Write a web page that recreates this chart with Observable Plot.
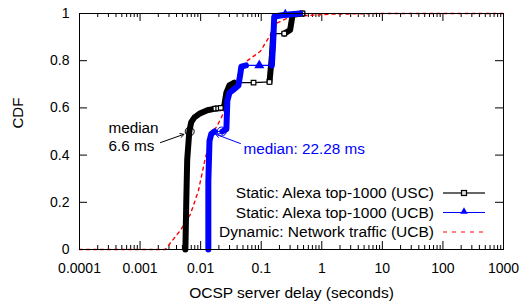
<!DOCTYPE html>
<html><head><meta charset="utf-8">
<script src="https://cdn.jsdelivr.net/npm/d3@7"></script>
<script src="https://cdn.jsdelivr.net/npm/@observablehq/plot@0.6"></script>
<style>body{margin:0;background:#fff}</style>
</head><body><div id="chart"></div>
<script>
// ---- data ----
const xTicks = [1e-4, 1e-3, 1e-2, 1e-1, 1, 10, 100, 1000];
const yTicks = [0, 0.2, 0.4, 0.6, 0.8, 1];
const seriesNames = ["Static: Alexa top-1000 (USC)", "Static: Alexa top-1000 (UCB)", "Dynamic: Network traffic (UCB)"];

const uscX = [0.0056, 0.0058, 0.0060, 0.0065, 0.0070, 0.0079, 0.0095, 0.0129, 0.0175, 0.0228, 0.0246, 0.0266, 0.0298, 0.036, 0.0747, 0.137, 0.150, 0.158, 0.24, 0.30, 0.33, 0.48];
const uscY = [0, 0.21, 0.38, 0.50, 0.54, 0.56, 0.575, 0.59, 0.597, 0.600, 0.61, 0.665, 0.695, 0.707, 0.707, 0.71, 0.82, 0.915, 0.915, 0.93, 0.995, 1.0];
const uscMarkX = [0.0175, 0.0195, 0.0215, 0.0747, 0.137, 0.24, 0.48];
const uscMarkY = [0.597, 0.598, 0.600, 0.707, 0.71, 0.915, 1.0];

const ucbX = [0.0134, 0.0134, 0.0140, 0.0150, 0.0169, 0.0228, 0.0266, 0.0276, 0.030, 0.036, 0.042, 0.045, 0.047, 0.056, 0.093, 0.150, 0.158, 0.164, 0.25, 0.44];
const ucbY = [0, 0.29, 0.46, 0.49, 0.50, 0.50, 0.51, 0.63, 0.665, 0.68, 0.695, 0.74, 0.775, 0.78, 0.78, 0.78, 0.885, 0.987, 0.995, 1.0];
const ucbMarkX = [0.093, 0.25];
const ucbMarkY = [0.78, 0.995];

const dynX = [0.0001, 0.0026, 0.0046, 0.0068, 0.0092, 0.012, 0.0157, 0.0212, 0.0257, 0.031, 0.040, 0.059, 0.097, 0.142, 0.185, 0.27, 0.44, 1.33, 10, 1000];
const dynY = [0, 0, 0.08, 0.15, 0.25, 0.39, 0.49, 0.55, 0.60, 0.67, 0.72, 0.80, 0.84, 0.91, 0.96, 0.98, 0.99, 0.997, 1, 1];

const medians = [
  {x: 0.0066, y: 0.5, label: "median\n6.6 ms", tx: 0.0003, ty: 0.48, ax: 0.00217, ay: 0.453, color: "black"},
  {x: 0.02228, y: 0.5, label: "median: 22.28 ms", tx: 0.0508, ty: 0.428, ax: 0.0454, ay: 0.449, color: "#0000ff"}
];

// ---- build tables ----
const zip = (xs, ys) => xs.map((x, i) => ({x, y: ys[i]}));
const usc = zip(uscX, uscY), ucb = zip(ucbX, ucbY), dyn = zip(dynX, dynY);
function thickRuns(pts) {
  const out = []; let run = 0, open = false;
  for (let i = 1; i < pts.length; i++) {
    if (pts[i].y - pts[i-1].y > 0.004) {
      if (!open) { run++; out.push({...pts[i-1], run}); open = true; }
      out.push({...pts[i], run});
    } else open = false;
  }
  return out;
}
const minorTicks = [];
for (let e = -4; e < 3; e++) for (let m = 2; m <= 9; m++) minorTicks.push(m * Math.pow(10, e));

const W = 524, H = 305, mL = 79, mR = 21, mT = 13, mB = 56;
const fw = W - mL - mR, fh = H - mT - mB;
const font = "Liberation Sans, Arial, Helvetica, sans-serif";

const chart = Plot.plot({
  width: W, height: H,
  marginLeft: mL, marginRight: mR, marginTop: mT, marginBottom: mB,
  style: {fontFamily: font, fontSize: "14px", background: "white", color: "black"},
  x: {type: "log", domain: [1e-4, 1e3]},
  y: {domain: [0, 1]},
  marks: [
    Plot.tickX(xTicks, {x: d => d, insetTop: fh - 8, stroke: "black"}),
    Plot.tickX(xTicks, {x: d => d, insetBottom: fh - 8, stroke: "black"}),
    Plot.tickX(minorTicks, {x: d => d, insetTop: fh - 4, stroke: "black"}),
    Plot.tickX(minorTicks, {x: d => d, insetBottom: fh - 4, stroke: "black"}),
    Plot.tickY(yTicks, {y: d => d, insetRight: fw - 8, stroke: "black"}),
    Plot.tickY(yTicks, {y: d => d, insetLeft: fw - 8, stroke: "black"}),
    Plot.axisX(xTicks, {tickSize: 0, tickPadding: 14, tickFormat: d => String(d), label: null, fontSize: 14}),
    Plot.axisY(yTicks, {tickSize: 0, tickPadding: 10, tickFormat: d => String(d), label: null, fontSize: 14}),
    Plot.text(["OCSP server delay (seconds)"], {frameAnchor: "bottom", dy: 48, fontSize: 15.5}),
    Plot.text(["CDF"], {frameAnchor: "left", dx: -61, dy: -3, rotate: -90, fontSize: 15}),
    Plot.line(dyn, {x: "x", y: "y", stroke: "#ff0000", strokeWidth: 1.4, strokeDasharray: "3,4"}),
    Plot.line(usc, {x: "x", y: "y", stroke: "black", strokeWidth: 1.2}),
    Plot.line(thickRuns(usc), {x: "x", y: "y", z: "run", stroke: "black", strokeWidth: 6, strokeLinejoin: "round"}),
    Plot.dot(zip(uscMarkX, uscMarkY), {x: "x", y: "y", symbol: "square", r: 2.6, stroke: "black", fill: "white", strokeWidth: 1.2}),
    Plot.line(ucb, {x: "x", y: "y", stroke: "#0000ff", strokeWidth: 1.2}),
    Plot.line(thickRuns(ucb), {x: "x", y: "y", z: "run", stroke: "#0000ff", strokeWidth: 6, strokeLinejoin: "round"}),
    Plot.dot(zip(ucbMarkX, ucbMarkY), {x: "x", y: "y", symbol: "triangle", r: 2.8, fill: "#0000ff", stroke: "#0000ff"}),
    Plot.dot(medians, {x: "x", y: "y", r: 4.5, stroke: "color", fill: "none", strokeWidth: 1}),
    Plot.arrow(medians, {x1: "ax", y1: "ay", x2: d => d.x * 0.8, y2: d => d.y - 0.012, stroke: "color", strokeWidth: 1, headLength: 6}),
    Plot.text(medians, {x: "tx", y: "ty", text: "label", fill: "color", textAnchor: "start", fontSize: 15.3, lineHeight: 1.15}),
    Plot.frame({stroke: "black", strokeWidth: 1})
  ]
});
document.getElementById("chart").append(chart);

// legend inside the frame, lower right
const svg = d3.select(chart);
const rowsY = [193, 212.5, 232];
const lx1 = 443, lx2 = 485, lxm = 464, tx = 434;
const g = svg.append("g").attr("font-family", font).attr("font-size", 15.5);
seriesNames.forEach((s, i) => {
  g.append("text").attr("x", tx).attr("y", rowsY[i]).attr("dy", "0.35em").attr("text-anchor", "end").attr("fill", "black").text(s);
});
g.append("line").attr("x1", lx1).attr("x2", lx2).attr("y1", rowsY[0]).attr("y2", rowsY[0]).attr("stroke", "#333").attr("stroke-width", 1.4);
g.append("rect").attr("x", lxm - 2.5).attr("y", rowsY[0] - 2.5).attr("width", 5).attr("height", 5).attr("fill", "#ddd").attr("stroke", "black").attr("stroke-width", 1.2);
g.append("line").attr("x1", lx1).attr("x2", lx2).attr("y1", rowsY[1]).attr("y2", rowsY[1]).attr("stroke", "#0000ff").attr("stroke-width", 1.2);
g.append("path").attr("d", d3.symbol(d3.symbolTriangle, 24)()).attr("transform", `translate(${lxm},${rowsY[1] - 1})`).attr("fill", "#0000ff");
g.append("line").attr("x1", lx1).attr("x2", lx2).attr("y1", rowsY[2]).attr("y2", rowsY[2]).attr("stroke", "#ff0000").attr("stroke-width", 1.2).attr("stroke-dasharray", "4,5");
</script>
</body></html>
